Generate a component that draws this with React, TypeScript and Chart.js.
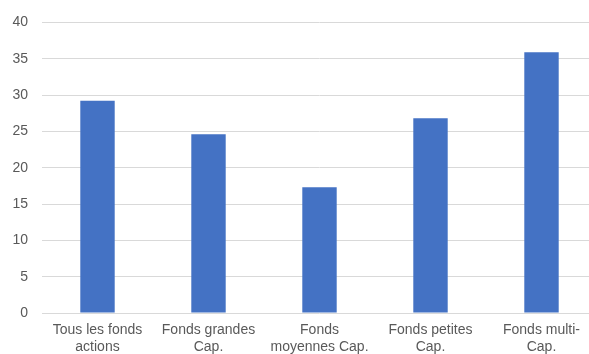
import React, { useEffect, useRef } from "react";
import { Chart, registerables } from "chart.js";

Chart.register(...registerables);

const categories: string[][] = [
  ["Tous les fonds", "actions"],
  ["Fonds grandes", "Cap."],
  ["Fonds", "moyennes Cap."],
  ["Fonds petites", "Cap."],
  ["Fonds multi-", "Cap."],
];
const values: number[] = [29.2, 24.6, 17.3, 26.8, 35.9];
const yMin = 0;
const yMax = 40;
const yStep = 5;

export default function App() {
  const ref = useRef<HTMLCanvasElement>(null);
  useEffect(() => {
    document.body.style.margin = "0";
    const ctx = ref.current!;
    const chart = new Chart(ctx, {
      type: "bar",
      data: {
        labels: categories,
        datasets: [
          {
            data: values,
            backgroundColor: "#4472C4",
            borderWidth: 0,
            categoryPercentage: 1,
            barPercentage: 0.31,
          },
        ],
      },
      options: {
        animation: false,
        responsive: false,
        maintainAspectRatio: false,
        layout: { padding: { top: 19, left: 0, right: 0, bottom: 0 } },
        plugins: { legend: { display: false }, tooltip: { enabled: false } },
        scales: {
          x: {
            grid: { display: false, drawTicks: false },
            border: { display: false },
            ticks: {
              color: "#595959",
              font: { family: "Liberation Sans, Arial", size: 14 },
              padding: 9,
              maxRotation: 0,
              autoSkip: false,
            },
            afterFit: (s: any) => {
              s.height = 41;
            },
          },
          y: {
            min: yMin,
            max: yMax,
            ticks: {
              stepSize: yStep,
              color: "#595959",
              font: { family: "Liberation Sans, Arial", size: 14 },
              padding: 14,
            },
            grid: { color: "#D9D9D9", drawTicks: false, lineWidth: 1 },
            border: { display: false },
            afterFit: (s: any) => {
              s.width = 42;
            },
          },
        },
      },
    });
    return () => chart.destroy();
  }, []);
  return (
    <div style={{ position: "absolute", left: 0, top: 0, width: 589, height: 354, overflow: "hidden" }}>
      <canvas ref={ref} width={597} height={354} style={{ width: 597, height: 354, display: "block" }} />
    </div>
  );
}
